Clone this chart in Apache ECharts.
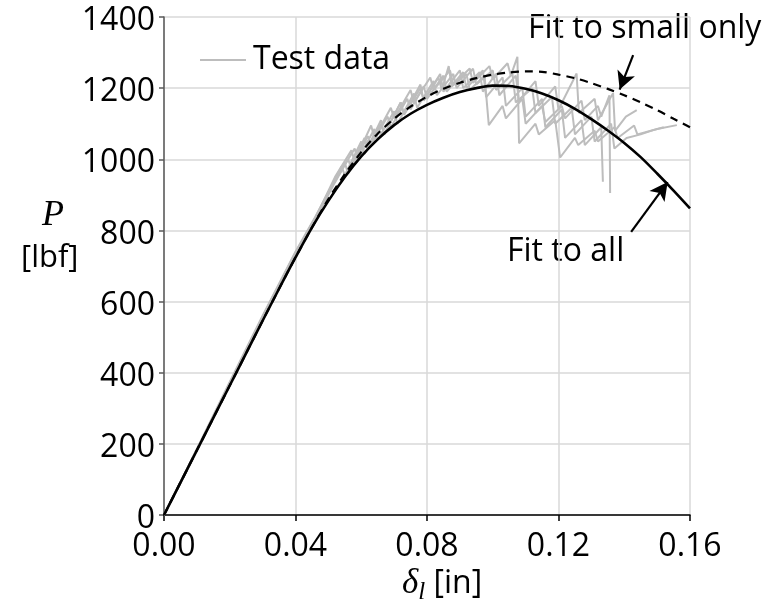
<!DOCTYPE html>
<html>
<head>
<meta charset="utf-8">
<script src="https://cdn.jsdelivr.net/npm/echarts@6/dist/echarts.min.js"></script>
<style>
html, body { margin: 0; padding: 0; background: #fff; }
#chart { width: 762px; height: 613px; }
</style>
</head>
<body>
<div id="chart"></div>
<script>
var FONT = '"Open Sans", sans-serif';

// fitted curves
var fitX = [0, 0.005, 0.01, 0.015, 0.02, 0.025, 0.03, 0.035, 0.04, 0.045, 0.05, 0.055, 0.06, 0.065, 0.07, 0.075, 0.08,
	0.085, 0.09, 0.095, 0.1, 0.105, 0.11, 0.115, 0.12, 0.125, 0.13, 0.135, 0.14, 0.145, 0.15, 0.155, 0.16];
var fitAllY = [0, 91, 182, 273, 364, 455, 546, 636, 724, 808, 883, 950, 1008, 1056, 1096, 1128, 1153,
	1173, 1189, 1200, 1207, 1206, 1198, 1185, 1166, 1142, 1113, 1081, 1046, 1006, 960, 912, 862];
var fitSmallY = [0, 91, 182, 273, 364, 455, 546, 636, 724, 808, 888, 958, 1020, 1072, 1114, 1148, 1176,
	1198, 1215, 1228, 1238, 1244, 1247, 1246, 1238, 1228, 1214, 1198, 1180, 1160, 1138, 1114, 1090];

// test specimens
var test1X = [0, 0.01, 0.02, 0.03, 0.04, 0.046, 0.052, 0.056, 0.057, 0.062, 0.063, 0.068, 0.069, 0.074, 0.075, 0.079, 0.080, 0.085,
	0.086, 0.091, 0.092, 0.097, 0.098, 0.103, 0.104, 0.109, 0.110, 0.115, 0.116, 0.121, 0.122, 0.127, 0.128, 0.133, 0.1335];
var test1Y = [0, 180, 368, 552, 732, 830, 935, 1000, 975, 1065, 1040, 1120, 1090, 1170, 1140, 1205, 1170, 1235,
	1190, 1245, 1200, 1250, 1175, 1230, 1150, 1200, 1120, 1170, 1090, 1140, 1060, 1110, 1040, 1090, 937];
var test2X = [0, 0.01, 0.02, 0.03, 0.04, 0.046, 0.051, 0.055, 0.056, 0.061, 0.062, 0.066, 0.067, 0.072, 0.073, 0.078, 0.079, 0.0835,
	0.0845, 0.0866, 0.0875, 0.092, 0.093, 0.0975, 0.0988, 0.103, 0.104, 0.109, 0.110, 0.115, 0.116, 0.121, 0.122, 0.127, 0.128,
	0.132, 0.133, 0.1355, 0.1357];
var test2Y = [0, 186, 374, 560, 740, 838, 925, 990, 960, 1060, 1030, 1100, 1070, 1160, 1125, 1200, 1165, 1230,
	1195, 1262, 1205, 1240, 1195, 1235, 1096, 1150, 1115, 1170, 1100, 1150, 1105, 1150, 1115, 1165, 1110,
	1150, 1120, 1180, 905];
var test3X = [0, 0.01, 0.02, 0.03, 0.04, 0.046, 0.052, 0.057, 0.058, 0.063, 0.064, 0.069, 0.070, 0.075, 0.076, 0.081, 0.082, 0.087,
	0.088, 0.093, 0.094, 0.099, 0.100, 0.1045, 0.1055, 0.1075, 0.108, 0.113, 0.114, 0.119, 0.1205, 0.125, 0.126, 0.131, 0.132,
	0.137, 0.138, 0.143, 0.144, 0.150, 0.156];
var test3Y = [0, 183, 370, 556, 736, 834, 950, 1025, 995, 1095, 1060, 1145, 1115, 1195, 1160, 1230, 1195, 1250,
	1210, 1255, 1215, 1262, 1225, 1270, 1235, 1288, 1045, 1100, 1070, 1110, 1005, 1060, 1040, 1080, 1050,
	1090, 1060, 1095, 1070, 1085, 1096];
var test4X = [0, 0.01, 0.02, 0.03, 0.04, 0.046, 0.051, 0.054, 0.055, 0.060, 0.061, 0.066, 0.067, 0.072, 0.073, 0.078, 0.079, 0.084,
	0.085, 0.090, 0.091, 0.096, 0.097, 0.101, 0.102, 0.107, 0.108, 0.113, 0.114, 0.119, 0.120, 0.1255, 0.1262, 0.131, 0.132,
	0.1366, 0.1372, 0.1405, 0.1438];
var test4Y = [0, 184, 372, 558, 738, 836, 925, 980, 955, 1050, 1015, 1110, 1070, 1160, 1125, 1210, 1165, 1240,
	1190, 1250, 1200, 1245, 1190, 1240, 1180, 1235, 1165, 1220, 1150, 1205, 1140, 1241, 1130, 1170, 1110,
	1186, 1080, 1120, 1138];
var test5X = [0, 0.01, 0.02, 0.03, 0.04, 0.046, 0.052, 0.058, 0.059, 0.064, 0.065, 0.070, 0.071, 0.076, 0.077, 0.082, 0.083, 0.088,
	0.089, 0.094, 0.095, 0.100, 0.101, 0.106, 0.107, 0.112, 0.113, 0.118, 0.119, 0.124, 0.125, 0.130, 0.131, 0.136, 0.137,
	0.1407, 0.145, 0.1488, 0.152];
var test5Y = [0, 182, 369, 553, 733, 832, 940, 1030, 1000, 1085, 1055, 1135, 1100, 1185, 1145, 1220, 1180, 1240,
	1200, 1255, 1210, 1250, 1195, 1240, 1160, 1200, 1130, 1175, 1100, 1145, 1070, 1120, 1050, 1100, 1030,
	1060, 1070, 1082, 1090];

var tests = [[test1X, test1Y], [test2X, test2Y], [test3X, test3Y], [test4X, test4Y], [test5X, test5Y]];

// annotation arrows [from, to]
var arrowSmall = [[0.1427, 1293], [0.1386, 1196]];
var arrowAll = [[0.1421, 796], [0.1532, 936]];

function zip(xs, ys) {
	var out = [];
	for (var i = 0; i < xs.length; i++) out.push([xs[i], ys[i]]);
	return out;
}

function arrow(a) {
	return [{coord: a[0], symbol: 'none'}, {coord: a[1], symbol: 'arrow'}];
}

var series = [];
tests.forEach(function (t) {
	series.push({
		name: 'Test data',
		type: 'line',
		data: zip(t[0], t[1]),
		showSymbol: false,
		color: '#bdbdbd',
		lineStyle: {color: '#bdbdbd', width: 2},
		z: 2
	});
});
series.push({
	name: 'Fit to small only',
	type: 'line',
	data: zip(fitX, fitSmallY),
	showSymbol: false,
	smooth: 0.3,
	lineStyle: {color: '#000', width: 2.2, type: [8, 6]},
	z: 3,
	markLine: {
		silent: true,
		symbolSize: [14, 18],
		label: {show: false},
		lineStyle: {color: '#000', width: 2.2, type: 'solid'},
		data: [arrow(arrowSmall)]
	}
});
series.push({
	name: 'Fit to all',
	type: 'line',
	data: zip(fitX, fitAllY),
	showSymbol: false,
	smooth: 0.3,
	lineStyle: {color: '#000', width: 2.6},
	z: 4,
	markLine: {
		silent: true,
		symbolSize: [14, 18],
		label: {show: false},
		lineStyle: {color: '#000', width: 2.2, type: 'solid'},
		data: [arrow(arrowAll)]
	}
});

var myChart = echarts.init(document.getElementById('chart'));
option = {
	animation: false,
	backgroundColor: '#fff',
	grid: {left: 164, right: 72, top: 17, bottom: 98, containLabel: false},
	legend: {
		data: ['Test data'],
		left: 195,
		top: 39,
		icon: 'rect',
		itemWidth: 46,
		itemHeight: 2,
		textStyle: {fontFamily: FONT, fontSize: 32, color: '#000', padding: [0, 0, 0, 2]}
	},
	xAxis: {
		type: 'value',
		min: 0,
		max: 0.16,
		interval: 0.04,
		axisLine: {lineStyle: {color: '#000', width: 1.5}},
		axisTick: {show: true, length: 6, lineStyle: {color: '#000', width: 1.5}},
		splitLine: {show: true, lineStyle: {color: '#d9d9d9', width: 1.5}},
		axisLabel: {
			color: '#000', fontFamily: FONT, fontSize: 32, margin: 16,
			formatter: function (v) { return v.toFixed(2); }
		}
	},
	yAxis: {
		type: 'value',
		min: 0,
		max: 1400,
		interval: 200,
		axisLine: {show: true, lineStyle: {color: '#595959', width: 1.5}},
		axisTick: {show: true, length: 5, lineStyle: {color: '#595959', width: 1.5}},
		splitLine: {show: true, lineStyle: {color: '#d9d9d9', width: 1.5}},
		axisLabel: {
			color: '#000', fontFamily: FONT, fontSize: 32, margin: 9,
			verticalAlign: 'top', lineHeight: 8,
			formatter: function (v) { return String(v); }
		}
	},
	graphic: [
		{
			type: 'text', left: 42, top: 198,
			style: {text: 'P', fontFamily: '"Liberation Serif", serif', fontStyle: 'italic', fontSize: 36, fill: '#000'}
		},
		{
			type: 'text', left: 21, top: 243,
			style: {text: '[lbf]', fontFamily: FONT, fontSize: 31, fill: '#000'}
		},
		{
			type: 'text', left: 402, top: 566,
			style: {
				text: '{d|δ}{s|l}{n| [in]}',
				rich: {
					d: {fontFamily: '"Liberation Serif", serif', fontStyle: 'italic', fontSize: 35, fill: '#000', lineHeight: 42},
					s: {fontFamily: '"Liberation Serif", serif', fontStyle: 'italic', fontSize: 25, fill: '#000', lineHeight: 22, verticalAlign: 'bottom'},
					n: {fontFamily: FONT, fontSize: 32, fill: '#000', lineHeight: 42}
				}
			}
		},
		{
			type: 'text', left: 528, top: 13,
			style: {text: 'Fit to small only', fontFamily: FONT, fontSize: 32, fill: '#000'}
		},
		{
			type: 'text', left: 507, top: 236,
			style: {text: 'Fit to all', fontFamily: FONT, fontSize: 32, fill: '#000'}
		}
	],
	series: series
};

myChart.setOption(option);
</script>
</body>
</html>
